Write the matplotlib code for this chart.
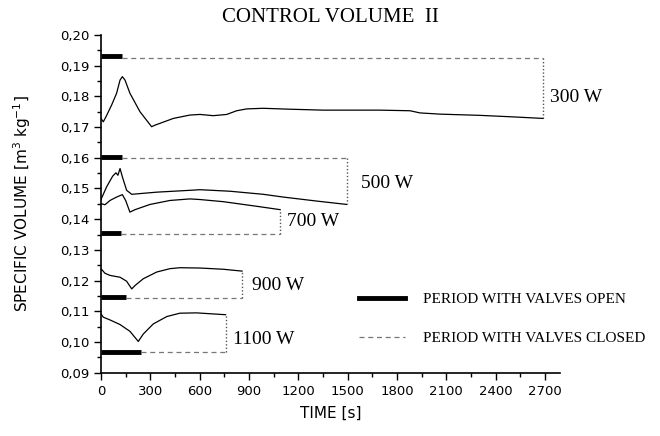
import matplotlib.pyplot as plt
from matplotlib.ticker import MultipleLocator, FuncFormatter
from matplotlib.lines import Line2D

# Curves: time [s] and specific volume [m3/kg]
t_300 = [0, 14, 30, 65, 95, 116, 130, 146, 176, 237, 308, 328, 440, 541, 602, 683, 765, 825,
         886, 987, 1150, 1352, 1697, 1880, 1940, 2062, 2305, 2508, 2690]
v_300 = [0.1728, 0.1717, 0.1733, 0.1772, 0.1810, 0.1853, 0.1864, 0.1853, 0.1810, 0.1750,
         0.1701, 0.1706, 0.1728, 0.1739, 0.1741, 0.1737, 0.1741, 0.1753, 0.1759, 0.1761,
         0.1758, 0.1755, 0.1755, 0.1753, 0.1746, 0.1742, 0.1738, 0.1733, 0.1728]

t_500 = [0, 34, 71, 91, 103, 116, 130, 156, 187, 339, 541, 602, 785, 987, 1109, 1312, 1495]
v_500 = [0.1464, 0.1505, 0.1540, 0.1551, 0.1543, 0.1565, 0.1538, 0.1494, 0.1481, 0.1488,
         0.1494, 0.1496, 0.1491, 0.1481, 0.1472, 0.1459, 0.1448]

t_700 = [0, 24, 55, 95, 130, 150, 176, 207, 298, 420, 541, 602, 744, 947, 1090]
v_700 = [0.1451, 0.1447, 0.1461, 0.1472, 0.1480, 0.1461, 0.1423, 0.1431, 0.1448, 0.1461,
         0.1466, 0.1464, 0.1457, 0.1442, 0.1431]

t_900 = [0, 24, 55, 116, 156, 187, 207, 257, 339, 420, 480, 602, 744, 858]
v_900 = [0.1239, 0.1224, 0.1217, 0.1211, 0.1198, 0.1173, 0.1184, 0.1206, 0.1228, 0.1239,
         0.1242, 0.1241, 0.1237, 0.1231]

t_1100 = [0, 14, 55, 116, 176, 227, 257, 318, 400, 480, 582, 758]
v_1100 = [0.1092, 0.1081, 0.1072, 0.1057, 0.1035, 0.1002, 0.1026, 0.1059, 0.1083, 0.1094,
          0.1095, 0.1089]

# valves open (thick bar) / closed (dashed) periods
labels = ['300 W', '500 W', '700 W', '900 W', '1100 W']
open_end = [130, 130, 120, 150, 245]
open_level = [0.1931, 0.1603, 0.1355, 0.1146, 0.0969]
closed_level = [0.1925, 0.1600, 0.1351, 0.1144, 0.0969]
closed_end = [2690, 1495, 1090, 858, 758]
label_pos = [(2730, 0.1795), (1580, 0.1515), (1130, 0.1392), (920, 0.1183), (800, 0.1007)]

curves = [(t_300, v_300), (t_500, v_500), (t_700, v_700), (t_900, v_900), (t_1100, v_1100)]

fig = plt.figure(figsize=(6.6, 4.36), dpi=100)
ax = fig.add_axes([0.153, 0.145, 0.695, 0.775])

for i, (t, v) in enumerate(curves):
    ax.plot(t, v, color='k', lw=0.9)
    ax.plot([0, open_end[i]], [open_level[i], open_level[i]], color='k', lw=3.5,
            solid_capstyle='butt')
    ax.plot([open_end[i], closed_end[i]], [closed_level[i], closed_level[i]],
            color='#777777', lw=0.9, linestyle=(0, (4, 3)))
    ax.plot([closed_end[i], closed_end[i]], [closed_level[i], v[-1]],
            color='#555555', lw=1.0, linestyle=(0, (1, 1.5)))
    ax.text(label_pos[i][0], label_pos[i][1], labels[i], family='Liberation Serif',
            fontsize=14, ha='left', va='center')

ax.set_xlim(0, 2790)
ax.set_ylim(0.09, 0.20)
ax.xaxis.set_major_locator(MultipleLocator(300))
ax.xaxis.set_minor_locator(MultipleLocator(150))
ax.yaxis.set_major_locator(MultipleLocator(0.01))
ax.yaxis.set_minor_locator(MultipleLocator(0.005))
ax.yaxis.set_major_formatter(FuncFormatter(lambda y, p: f'{y:.2f}'.replace('.', ',')))
ax.tick_params(which='major', direction='out', length=5, width=1, labelsize=9.5)
ax.tick_params(which='minor', direction='out', length=3, width=1)
ax.spines['top'].set_visible(False)
ax.spines['right'].set_visible(False)
ax.spines['left'].set_linewidth(1.2)
ax.spines['bottom'].set_linewidth(1.2)

ax.set_xlabel('TIME [s]', fontsize=11, labelpad=6)
ax.set_ylabel('SPECIFIC VOLUME [m$^3$ kg$^{-1}$]', fontsize=11, labelpad=19)
ax.set_title('CONTROL VOLUME  II', family='Liberation Serif', fontsize=15, pad=9)

handles = [Line2D([], [], color='k', lw=3.5),
           Line2D([], [], color='#777777', lw=0.9, linestyle=(0, (4, 3)))]
ax.legend(handles, ['PERIOD WITH VALVES OPEN', 'PERIOD WITH VALVES CLOSED'],
          loc='upper left', bbox_to_anchor=(0.562, 0.237), frameon=False,
          prop={'family': 'Liberation Serif', 'size': 11},
          handlelength=3.0, handletextpad=1.2, labelspacing=1.65, borderpad=0,
          borderaxespad=0)

fig.savefig('out.png', dpi=100)
